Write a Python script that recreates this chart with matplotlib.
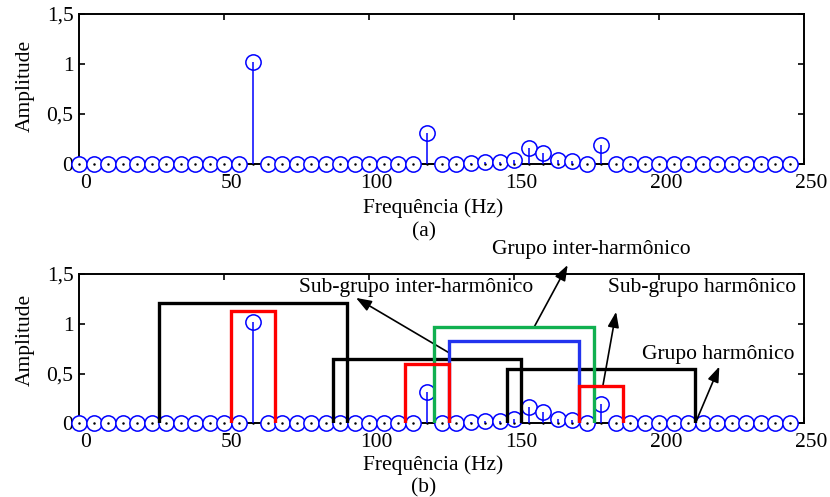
import matplotlib
matplotlib.use("Agg")
import matplotlib.pyplot as plt
import matplotlib.transforms as mtransforms
from matplotlib.ticker import FuncFormatter

''' Data
'''
freqs = list(range(0, 250, 5))
amps = [0, 0, 0, 0, 0, 0, 0, 0, 0, 0,
        0, 0, 1.02, 0, 0, 0, 0, 0, 0, 0,
        0, 0, 0, 0, 0.31, 0, 0, 0.01, 0.02, 0.02,
        0.04, 0.16, 0.11, 0.04, 0.03, 0, 0.19, 0, 0, 0,
        0, 0, 0, 0, 0, 0, 0, 0, 0, 0]

# harmonic groups (black)
grp_left = [27.5, 87.5, 147.5]
grp_right = [92.5, 152.5, 212.5]
grp_height = [1.21, 0.65, 0.55]
# harmonic sub-groups (red)
sub_left = [52.5, 112.5, 172.5]
sub_right = [67.5, 127.5, 187.5]
sub_height = [1.13, 0.60, 0.37]
# inter-harmonic group (green) and sub-group (blue)
igrp = [122.5, 177.5, 0.97]
isub = [127.5, 172.5, 0.83]

xticks = [0, 50, 100, 150, 200, 250]
yticks = [0, 0.5, 1, 1.5]

''' Style
'''
FS = 15.5
plt.rcParams['font.family'] = ['Liberation Serif', 'DejaVu Serif']
plt.rcParams['font.size'] = FS

blue = '#0000ff'
red = '#ff0000'
green = '#10b050'
blue2 = '#2233ee'


def comma(v, pos):
    s = ('%g' % v).replace('.', ',')
    return s


def setup(ax, xlab_y, label, ylab_y):
    ax.set_xlim(0, 250)
    ax.set_ylim(0, 1.5)
    ax.set_xticks(xticks)
    ax.set_yticks(yticks)
    ax.yaxis.set_major_formatter(FuncFormatter(comma))
    ax.tick_params(direction='in', length=4.5, width=1.2, top=True, right=True,
                   labelsize=FS)
    ax.tick_params(axis='x', pad=7)
    ax.tick_params(axis='y', pad=4)
    for sp in ax.spines.values():
        sp.set_linewidth(1.4)
    # the x tick labels sit a little to the right of their ticks
    off = mtransforms.ScaledTranslation(0.07, 0, ax.figure.dpi_scale_trans)
    for t in ax.get_xticklabels():
        t.set_transform(t.get_transform() + off)
    ax.text(-0.0745, ylab_y, 'Amplitude', rotation=90, ha='center', va='center',
            transform=ax.transAxes)
    ax.text(0.488, xlab_y, 'Frequência (Hz)', ha='center', va='center',
            transform=ax.transAxes)
    ax.text(0.476, label[1], label[0], ha='center', va='center',
            transform=ax.transAxes)


def draw_stems(ax):
    ml, sl, bl = ax.stem(freqs, amps, linefmt='-', markerfmt='o', basefmt=' ')
    ml.set_markerfacecolor('white')
    ml.set_markeredgecolor(blue)
    ml.set_markersize(11)
    ml.set_markeredgewidth(1.1)
    ml.set_clip_on(False)
    ml.set_zorder(3)
    sl.set_color(blue)
    sl.set_linewidth(1.1)
    sl.set_zorder(3.2)
    ax.plot(freqs, [0] * len(freqs), ls='none', marker='.', ms=1.6, color='k',
            zorder=3.1, clip_on=False)


def box(ax, x0, x1, h, color):
    ax.plot([x0, x0, x1, x1], [0, h, h, 0], color=color, lw=2.4,
            solid_joinstyle='miter', zorder=4)


fig = plt.figure(figsize=(8.3, 4.97), dpi=100)
ax1 = fig.add_axes([0.0952, 0.670, 0.8735, 0.3018])
ax2 = fig.add_axes([0.0952, 0.1483, 0.8735, 0.3004])

''' (a)
'''
draw_stems(ax1)
setup(ax1, -0.293, ('(a)', -0.453), 0.52)

''' (b)
'''
draw_stems(ax2)
for l, r, h in zip(grp_left, grp_right, grp_height):
    box(ax2, l, r, h, 'k')
box(ax2, igrp[0], igrp[1], igrp[2], green)
box(ax2, isub[0], isub[1], isub[2], blue2)
for l, r, h in zip(sub_left, sub_right, sub_height):
    box(ax2, l, r, h, red)
setup(ax2, -0.278, ('(b)', -0.432), 0.558)

arrow = dict(arrowstyle='-|>,head_length=0.6,head_width=0.22', color='k',
             lw=1.2, shrinkA=0, shrinkB=0)
ax2.annotate('', xy=(95.5, 1.26), xytext=(127.5, 0.71), arrowprops=arrow,
             annotation_clip=False)
ax2.annotate('', xy=(168.5, 1.59), xytext=(157, 0.97), arrowprops=arrow,
             annotation_clip=False)
ax2.annotate('', xy=(185.2, 1.12), xytext=(180.6, 0.37), arrowprops=arrow,
             annotation_clip=False)
ax2.annotate('', xy=(220.8, 0.57), xytext=(212.8, 0.02), arrowprops=arrow,
             annotation_clip=False)
ax2.text(116.2, 1.36, 'Sub-grupo inter-harmônico', ha='center', va='center',
         zorder=5)
ax2.text(176.6, 1.745, 'Grupo inter-harmônico', ha='center', va='center',
         clip_on=False)
ax2.text(214.9, 1.36, 'Sub-grupo harmônico', ha='center', va='center')
ax2.text(220.5, 0.69, 'Grupo harmônico', ha='center', va='center')

fig.savefig('out.png', dpi=100)
